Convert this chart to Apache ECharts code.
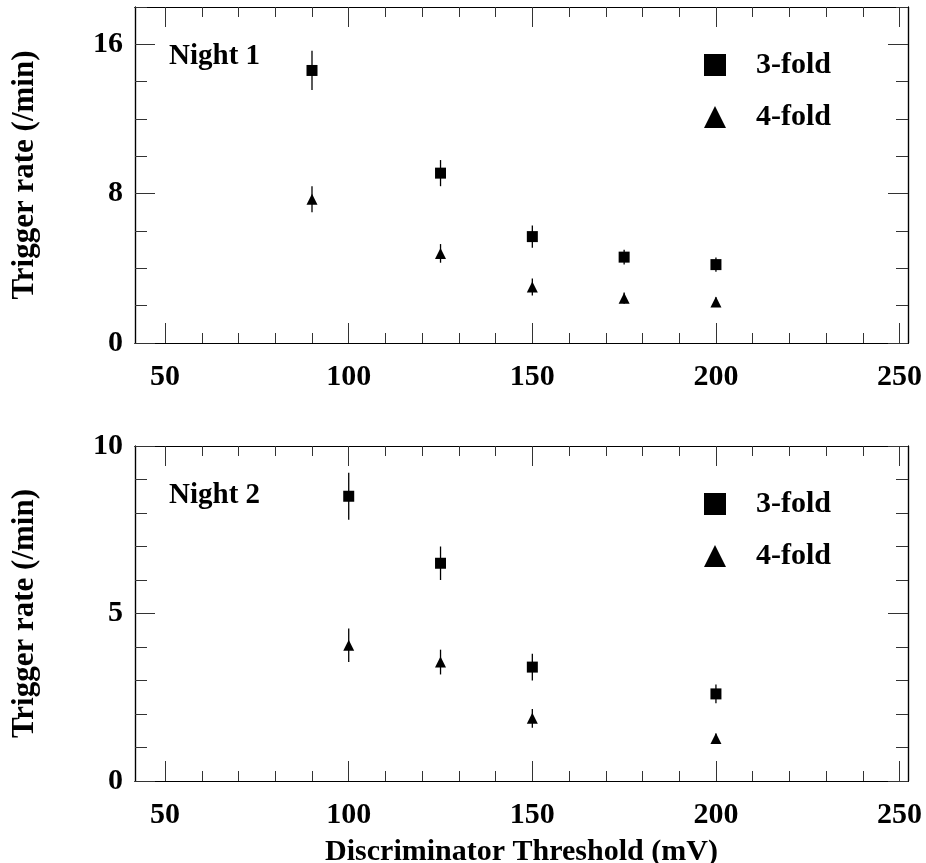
<!DOCTYPE html>
<html>
<head>
<meta charset="utf-8">
<script src="https://cdn.jsdelivr.net/npm/echarts@6/dist/echarts.min.js"></script>
<style>
html,body{margin:0;padding:0;background:#fff;}
#chart{width:926px;height:863px;}
</style>
</head>
<body>
<div id="chart"></div>
<script>
// ---- Data ----
const thresholdsN1 = [90, 125, 150, 175, 200];
const threeFoldN1 = [14.6, 9.1, 5.7, 4.6, 4.2];
const threeFoldErrN1 = [1.05, 0.7, 0.6, 0.4, 0.38];
const fourFoldN1 = [7.7, 4.8, 3.0, 2.4, 2.2];
const fourFoldErrN1 = [0.7, 0.5, 0.45, 0.3, 0.25];

const thresholdsN2 = [100, 125, 150, 200];
const threeFoldN2 = [8.5, 6.5, 3.4, 2.6];
const threeFoldErrN2 = [0.7, 0.5, 0.4, 0.28];
const fourFoldN2 = [4.05, 3.55, 1.87, 1.27];
const fourFoldErrN2 = [0.5, 0.37, 0.28, 0.15];

// ---- Ticks ----
const xMajorTicks = [50, 100, 150, 200, 250];
const xMinorTicks = [50, 60, 70, 80, 90, 100, 110, 120, 130, 140, 150, 160, 170, 180, 190, 200, 210, 220, 230, 240, 250];
const yMajorN1 = [0, 8, 16];
const yMinorN1 = [0, 2, 4, 6, 8, 10, 12, 14, 16, 18];
const yMajorN2 = [0, 5, 10];
const yMinorN2 = [0, 1, 2, 3, 4, 5, 6, 7, 8, 9, 10];

const FONT = '"Liberation Serif", "Times New Roman", serif';
const X_MIN = 41.8, X_MAX = 252.3;

function xAxes(grid, withLabel, name) {
  const base = {
    gridIndex: grid, type: 'value', min: X_MIN, max: X_MAX,
    splitLine: {show: false},
    axisLine: {show: true, onZero: false, lineStyle: {color: '#000', width: 1.2}}
  };
  return [
    Object.assign({}, base, {
      position: 'bottom',
      axisTick: {show: true, inside: true, length: 20, customValues: xMajorTicks, lineStyle: {color: '#333', width: 1}},
      axisLabel: {show: withLabel, customValues: xMajorTicks, margin: 19, color: '#000', fontFamily: FONT, fontWeight: 'bold', fontSize: 30},
      name: name || '', nameLocation: 'middle', nameGap: 56,
      nameTextStyle: {color: '#000', fontFamily: FONT, fontWeight: 'bold', fontSize: 30}
    }),
    Object.assign({}, base, {
      position: 'bottom',
      axisTick: {show: true, inside: true, length: 10, customValues: xMinorTicks, lineStyle: {color: '#333', width: 1}},
      axisLabel: {show: false}
    }),
    Object.assign({}, base, {
      position: 'top',
      axisTick: {show: true, inside: true, length: 20, customValues: xMajorTicks, lineStyle: {color: '#333', width: 1}},
      axisLabel: {show: false}
    }),
    Object.assign({}, base, {
      position: 'top',
      axisTick: {show: true, inside: true, length: 10, customValues: xMinorTicks, lineStyle: {color: '#333', width: 1}},
      axisLabel: {show: false}
    })
  ];
}

function yAxes(grid, max, major, minor) {
  const base = {
    gridIndex: grid, type: 'value', min: 0, max: max,
    splitLine: {show: false},
    axisLine: {show: true, onZero: false, lineStyle: {color: '#000', width: 1.2}}
  };
  return [
    Object.assign({}, base, {
      position: 'left',
      axisTick: {show: true, inside: true, length: 20, customValues: major, lineStyle: {color: '#333', width: 1}},
      axisLabel: {show: true, customValues: major, margin: 12, color: '#000', fontFamily: FONT, fontWeight: 'bold', fontSize: 30},
      name: 'Trigger rate (/min)', nameLocation: 'middle', nameGap: 95, nameRotate: 90,
      nameTextStyle: {color: '#000', fontFamily: FONT, fontWeight: 'bold', fontSize: 31}
    }),
    Object.assign({}, base, {
      position: 'left',
      axisTick: {show: true, inside: true, length: 12, customValues: minor, lineStyle: {color: '#333', width: 1}},
      axisLabel: {show: false}
    }),
    Object.assign({}, base, {
      position: 'right',
      axisTick: {show: true, inside: true, length: 20, customValues: major, lineStyle: {color: '#333', width: 1}},
      axisLabel: {show: false}
    }),
    Object.assign({}, base, {
      position: 'right',
      axisTick: {show: true, inside: true, length: 12, customValues: minor, lineStyle: {color: '#333', width: 1}},
      axisLabel: {show: false}
    })
  ];
}

function errSeries(xi, yi, xs, ys, es) {
  return {
    type: 'custom', xAxisIndex: xi, yAxisIndex: yi, z: 1, silent: true,
    data: xs.map((x, i) => [x, ys[i] - es[i], ys[i] + es[i]]),
    renderItem: function (params, api) {
      const p1 = api.coord([api.value(0), api.value(1)]);
      const p2 = api.coord([api.value(0), api.value(2)]);
      return {type: 'line', shape: {x1: p1[0], y1: p1[1], x2: p2[0], y2: p2[1]}, style: {stroke: '#000', lineWidth: 1.3}};
    }
  };
}

function pointSeries(name, xi, yi, xs, ys, symbol) {
  return {
    name: name, type: 'scatter', xAxisIndex: xi, yAxisIndex: yi, z: 3,
    symbol: symbol, symbolSize: 11,
    itemStyle: {color: '#000', opacity: 1},
    data: xs.map((x, i) => [x, ys[i]])
  };
}

function legendFor(top) {
  return {
    orient: 'vertical', left: 704, top: top, padding: 0,
    itemWidth: 22, itemHeight: 22, itemGap: 22,
    selectedMode: false,
    data: [{name: '3-fold', icon: 'rect'}, {name: '4-fold', icon: 'triangle'}],
    textStyle: {color: '#000', fontFamily: FONT, fontWeight: 'bold', fontSize: 30, padding: [0, 0, 0, 25]}
  };
}

const chart = echarts.init(document.getElementById('chart'), null, {renderer: 'canvas'});
chart.setOption({
  backgroundColor: '#fff',
  animation: false,
  title: [
    {text: 'Night 1', left: 164, top: 37, padding: 5,
     textStyle: {color: '#000', fontFamily: FONT, fontWeight: 'bold', fontSize: 29}},
    {text: 'Night 2', left: 164, top: 476, padding: 5,
     textStyle: {color: '#000', fontFamily: FONT, fontWeight: 'bold', fontSize: 29}}
  ],
  legend: [legendFor(50), legendFor(489)],
  grid: [
    {left: 135, top: 7, width: 773, height: 336, containLabel: false, outerBoundsMode: 'none'},
    {left: 135, top: 446, width: 773, height: 335, containLabel: false, outerBoundsMode: 'none'}
  ],
  xAxis: [].concat(xAxes(0, true, ''), xAxes(1, true, 'Discriminator Threshold (mV)')),
  yAxis: [].concat(yAxes(0, 18, yMajorN1, yMinorN1), yAxes(1, 10, yMajorN2, yMinorN2)),
  series: [
    errSeries(0, 0, thresholdsN1, threeFoldN1, threeFoldErrN1),
    errSeries(0, 0, thresholdsN1, fourFoldN1, fourFoldErrN1),
    pointSeries('3-fold', 0, 0, thresholdsN1, threeFoldN1, 'rect'),
    pointSeries('4-fold', 0, 0, thresholdsN1, fourFoldN1, 'triangle'),
    errSeries(4, 4, thresholdsN2, threeFoldN2, threeFoldErrN2),
    errSeries(4, 4, thresholdsN2, fourFoldN2, fourFoldErrN2),
    pointSeries('3-fold', 4, 4, thresholdsN2, threeFoldN2, 'rect'),
    pointSeries('4-fold', 4, 4, thresholdsN2, fourFoldN2, 'triangle')
  ]
});
</script>
</body>
</html>
